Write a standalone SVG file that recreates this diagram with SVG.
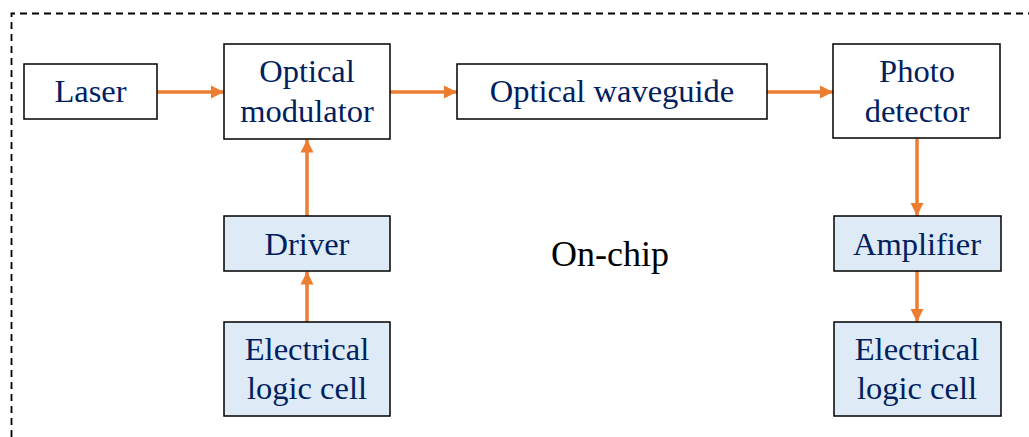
<svg xmlns="http://www.w3.org/2000/svg" width="1029" height="437" viewBox="0 0 1029 437">
<defs>
<style>
.box{fill:#ffffff;stroke:#000000;stroke-width:1.5}
.blue{fill:#DEEBF7;stroke:#000000;stroke-width:1.5}
.t{font-family:"Liberation Serif","Times New Roman",serif;font-size:32.5px;fill:#002060;text-anchor:middle}
.conn{stroke:#ED7D31;stroke-width:3.5;fill:none;marker-end:url(#ah)}
</style>
<marker id="ah" markerUnits="userSpaceOnUse" markerWidth="14" markerHeight="14" viewBox="0 0 14 14" refX="13" refY="7" orient="auto">
<path d="M0,0.5 L13,7 L0,13.5 Z" fill="#ED7D31"/>
</marker>
</defs>
<rect width="1029" height="437" fill="#ffffff"/>
<path d="M11.5,437 V13.5 H1029" fill="none" stroke="#000000" stroke-width="1.8" stroke-dasharray="7,5"/>
<g id="connectors">
<line class="conn" x1="157" y1="92" x2="224" y2="92"/>
<line class="conn" x1="390" y1="92" x2="457" y2="92"/>
<line class="conn" x1="767" y1="92" x2="833" y2="92"/>
<line class="conn" x1="307" y1="216" x2="307" y2="139.5"/>
<line class="conn" x1="307" y1="322" x2="307" y2="271.5"/>
<line class="conn" x1="917" y1="138.5" x2="917" y2="216"/>
<line class="conn" x1="917" y1="271" x2="917" y2="322"/>
</g>
<g id="laser">
<rect class="box" x="24" y="64" width="133" height="55"/>
<text class="t" x="90.5" y="102">Laser</text>
</g>
<g id="modulator">
<rect class="box" x="224" y="44" width="166" height="95"/>
<text class="t" x="307" y="82">Optical</text>
<text class="t" x="307" y="122">modulator</text>
</g>
<g id="waveguide">
<rect class="box" x="457" y="64" width="310" height="55"/>
<text class="t" x="612" y="102">Optical waveguide</text>
</g>
<g id="photodetector">
<rect class="box" x="833" y="44" width="167" height="94"/>
<text class="t" x="917" y="82">Photo</text>
<text class="t" x="917" y="122">detector</text>
</g>
<g id="driver">
<rect class="blue" x="224" y="216" width="166" height="55"/>
<text class="t" x="307" y="255">Driver</text>
</g>
<g id="logic-left">
<rect class="blue" x="224" y="322" width="166" height="94"/>
<text class="t" x="307" y="360">Electrical</text>
<text class="t" x="307" y="399">logic cell</text>
</g>
<g id="amplifier">
<rect class="blue" x="834" y="216" width="167" height="55"/>
<text class="t" x="917" y="255">Amplifier</text>
</g>
<g id="logic-right">
<rect class="blue" x="834" y="322" width="167" height="94"/>
<text class="t" x="917" y="360">Electrical</text>
<text class="t" x="917" y="399">logic cell</text>
</g>
<g id="onchip">
<text x="610" y="266" style="font-family:'Liberation Serif','Times New Roman',serif;font-size:36px;fill:#000000;text-anchor:middle">On-chip</text>
</g>
</svg>
